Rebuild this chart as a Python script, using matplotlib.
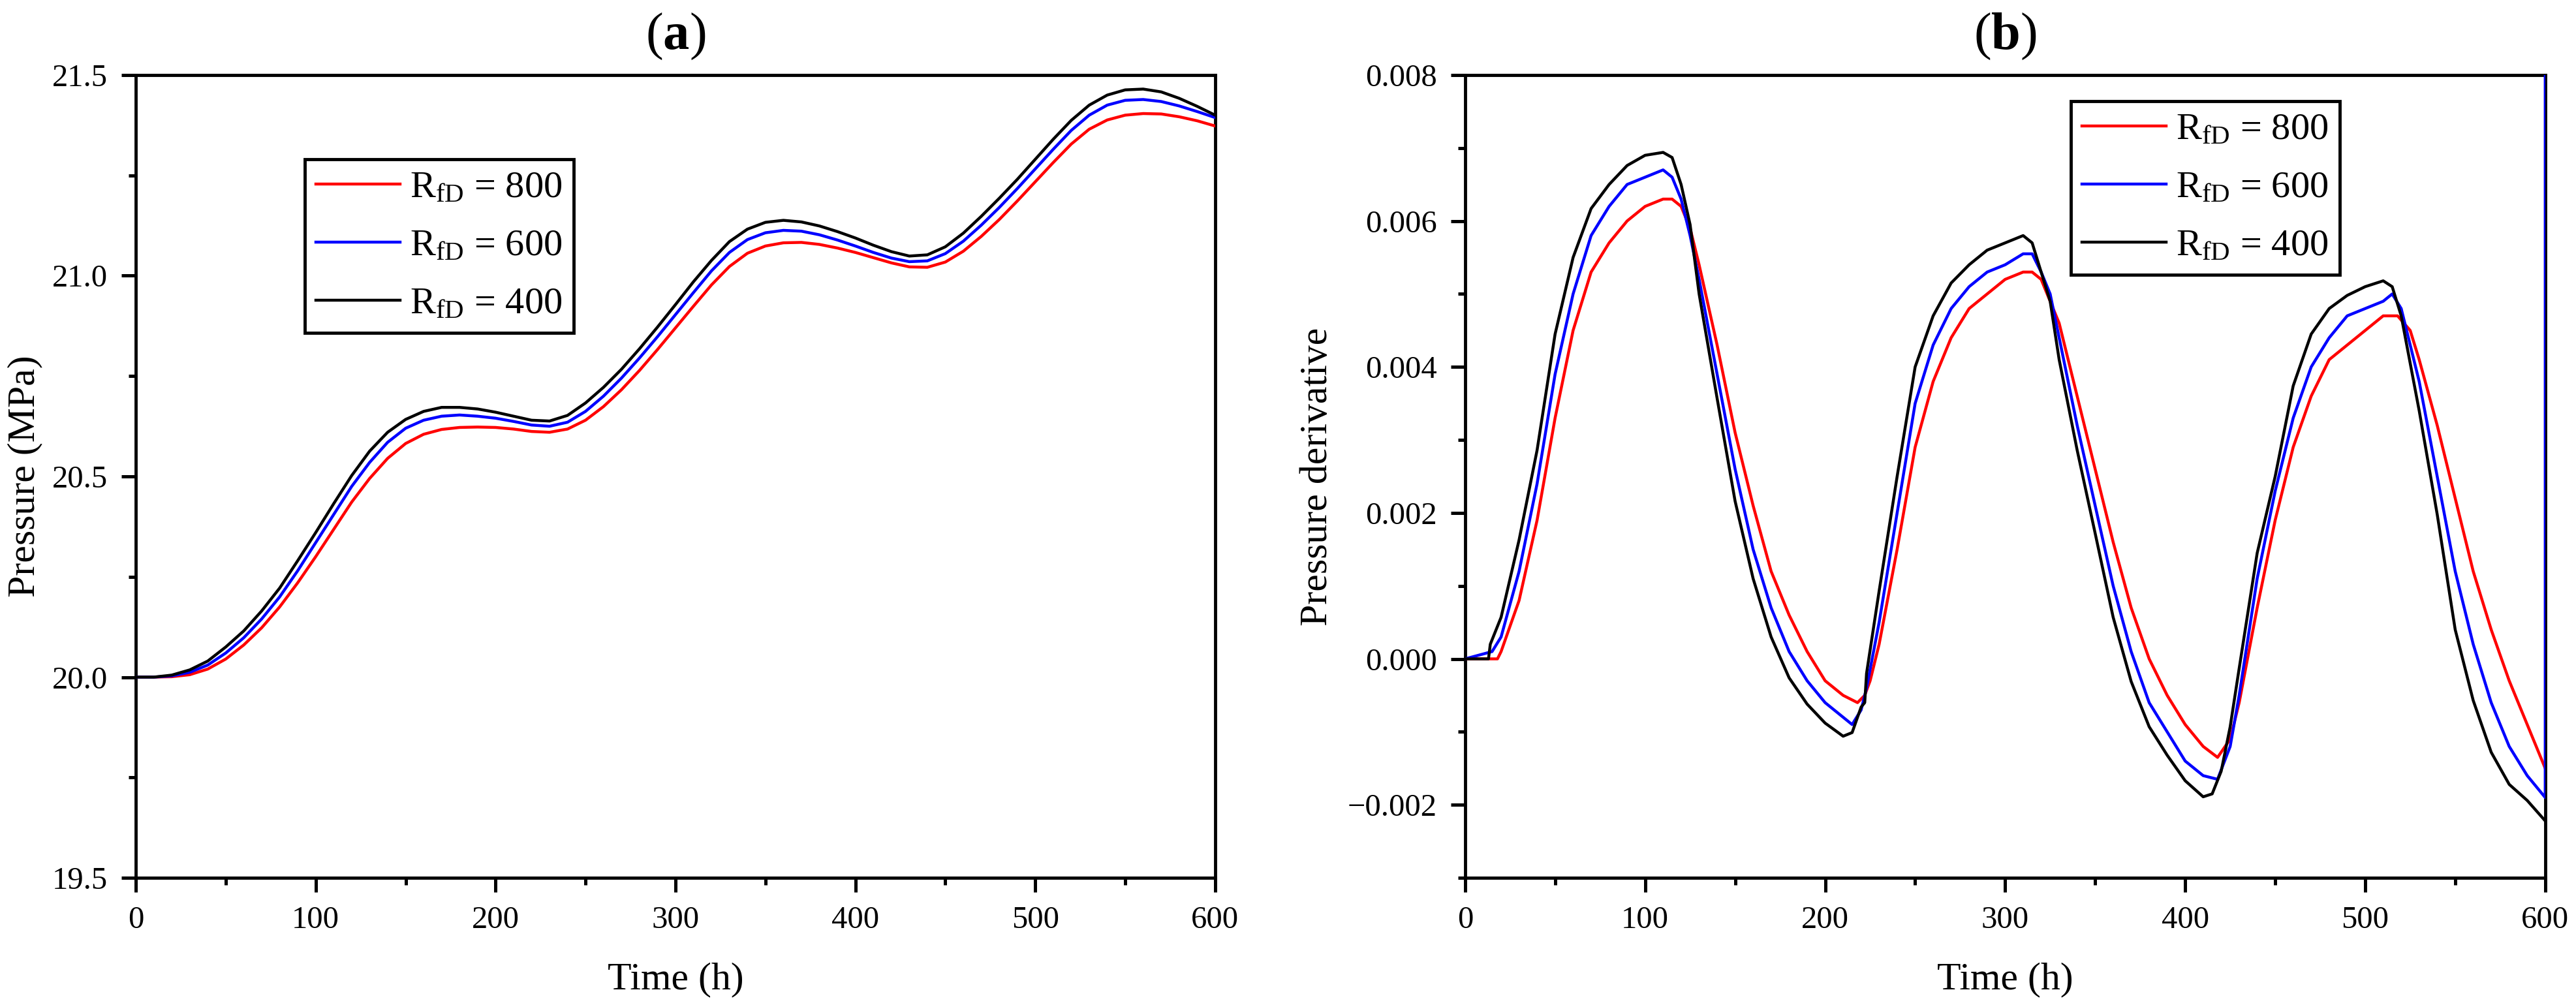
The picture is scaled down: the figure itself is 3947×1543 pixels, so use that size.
#Two panel figure: pressure and pressure derivative for three RfD values

import numpy as np
import matplotlib
matplotlib.use('Agg')
import matplotlib.pyplot as plt
from matplotlib.ticker import MultipleLocator, FuncFormatter

plt.rcParams['font.family'] = ['Liberation Serif', 'DejaVu Serif']
plt.rcParams['mathtext.fontset'] = 'custom'
plt.rcParams['mathtext.rm'] = 'Liberation Serif'
plt.rcParams['mathtext.it'] = 'Liberation Serif:italic'
plt.rcParams['mathtext.bf'] = 'Liberation Serif:bold'

#########################################################################
# DATA                                             #
#########################################################################

labels = [r'R$_{\mathrm{fD}}$ = 800', r'R$_{\mathrm{fD}}$ = 600', r'R$_{\mathrm{fD}}$ = 400']
colors = ['#FF0000', '#0000FF', '#000000']

#Panel (a) pressure, sampled every 10 h
time_p = np.arange(0, 601, 10)

pressure_800 = [20.000, 20.000, 20.001, 20.006, 20.020, 20.045, 20.080, 20.123, 20.175, 20.235,
                20.300, 20.368, 20.436, 20.495, 20.545, 20.582, 20.605, 20.617, 20.622, 20.623,
                20.622, 20.618, 20.612, 20.610, 20.618, 20.640, 20.674, 20.716, 20.764, 20.816,
                20.870, 20.924, 20.977, 21.023, 21.056, 21.074, 21.082, 21.083, 21.078, 21.069,
                21.058, 21.045, 21.032, 21.022, 21.021, 21.034, 21.061, 21.098, 21.140, 21.186,
                21.234, 21.282, 21.328, 21.365, 21.388, 21.400, 21.404, 21.403, 21.396, 21.386,
                21.373]

pressure_600 = [20.000, 20.000, 20.003, 20.012, 20.030, 20.060, 20.098, 20.145, 20.200, 20.265,
                20.335, 20.405, 20.475, 20.535, 20.585, 20.620, 20.640, 20.650, 20.653, 20.650,
                20.645, 20.637, 20.628, 20.625, 20.635, 20.662, 20.700, 20.745, 20.795, 20.848,
                20.903, 20.958, 21.012, 21.058, 21.090, 21.107, 21.113, 21.111, 21.102, 21.089,
                21.074, 21.058, 21.044, 21.035, 21.037, 21.055, 21.086, 21.126, 21.170, 21.217,
                21.266, 21.315, 21.362, 21.400, 21.425, 21.437, 21.439, 21.434, 21.423, 21.409,
                21.394]

pressure_400 = [20.000, 20.000, 20.005, 20.018, 20.040, 20.075, 20.115, 20.165, 20.222, 20.290,
                20.360, 20.432, 20.502, 20.563, 20.610, 20.642, 20.662, 20.672, 20.672, 20.668,
                20.660, 20.650, 20.640, 20.638, 20.652, 20.683, 20.722, 20.767, 20.818, 20.872,
                20.928, 20.985, 21.038, 21.085, 21.116, 21.133, 21.138, 21.134, 21.124, 21.110,
                21.094, 21.076, 21.060, 21.049, 21.052, 21.072, 21.106, 21.148, 21.193, 21.240,
                21.290, 21.340, 21.387, 21.425, 21.450, 21.463, 21.465, 21.458, 21.442, 21.422,
                21.400]

#Panel (b) pressure derivative
time_d800 = [0, 18, 20, 30, 40, 50, 60, 70, 80, 90, 100, 110, 115, 120, 125, 130, 140, 150, 160,
             170, 180, 190, 200, 210, 218, 222, 225, 230, 240, 250, 260, 270, 280, 290, 300, 310,
             315, 320, 330, 340, 350, 360, 370, 380, 390, 400, 410, 418, 425, 430, 440, 450, 460,
             470, 480, 490, 500, 510, 518, 525, 530, 540, 550, 560, 570, 580, 590, 600]
deriv_800 = [0.0, 0.0, 0.0001, 0.0008, 0.0019, 0.0033, 0.0045, 0.0053, 0.0057, 0.0060, 0.0062,
             0.0063, 0.0063, 0.0062, 0.0059, 0.0054, 0.0043, 0.0031, 0.0021, 0.0012, 0.0006,
             0.0001, -0.0003, -0.0005, -0.0006, -0.0005, -0.0003, 0.0002, 0.0015, 0.0029, 0.0038,
             0.0044, 0.0048, 0.0050, 0.0052, 0.0053, 0.0053, 0.0052, 0.0046, 0.0036, 0.0026,
             0.0016, 0.0007, 0.0000, -0.0005, -0.0009, -0.0012, -0.00135, -0.0011, -0.0006,
             0.0007, 0.0019, 0.0029, 0.0036, 0.0041, 0.0043, 0.0045, 0.0047, 0.0047, 0.0045,
             0.0041, 0.0032, 0.0022, 0.0012, 0.0004, -0.0003, -0.0009, -0.0015]

#the 600 curve jumps off the top of the axes at the last time step
time_d600 = [0, 15, 20, 30, 40, 50, 60, 70, 80, 90, 100, 110, 115, 120, 125, 130, 140, 150, 160,
             170, 180, 190, 200, 210, 215, 220, 223, 230, 240, 250, 260, 270, 280, 290, 300, 310,
             315, 320, 325, 330, 340, 350, 360, 370, 380, 390, 400, 410, 418, 425, 430, 440, 450,
             460, 470, 480, 490, 500, 510, 515, 520, 530, 540, 550, 560, 570, 580, 590, 600, 600]
deriv_600 = [0.0, 0.0001, 0.0003, 0.0012, 0.0024, 0.0039, 0.0050, 0.0058, 0.0062, 0.0065, 0.0066,
             0.0067, 0.0066, 0.0063, 0.0058, 0.0052, 0.0039, 0.0026, 0.0015, 0.0007, 0.0001,
             -0.0003, -0.0006, -0.0008, -0.0009, -0.0007, -0.0004, 0.0005, 0.0020, 0.0035, 0.0043,
             0.0048, 0.0051, 0.0053, 0.0054, 0.00555, 0.00555, 0.0053, 0.0050, 0.0044, 0.0032,
             0.0021, 0.0010, 0.0001, -0.0006, -0.0010, -0.0014, -0.0016, -0.00165, -0.0012,
             -0.0005, 0.0011, 0.0023, 0.0033, 0.0040, 0.0044, 0.0047, 0.0048, 0.0049, 0.0050,
             0.0048, 0.0038, 0.0025, 0.0012, 0.0002, -0.0006, -0.0012, -0.0016, -0.0019, 0.0085]

time_d400 = [0, 13, 14, 20, 30, 40, 50, 60, 70, 80, 90, 100, 110, 115, 120, 125, 130, 140, 150,
             160, 170, 180, 190, 200, 210, 215, 220, 222, 223, 230, 240, 250, 260, 270, 280, 290,
             300, 310, 315, 320, 325, 330, 340, 350, 360, 370, 380, 390, 400, 410, 415, 420, 425,
             430, 440, 450, 460, 470, 480, 490, 500, 510, 515, 520, 530, 540, 550, 560, 570, 580,
             590, 600]
deriv_400 = [0.0, 0.0, 0.0002, 0.00057, 0.00163, 0.00286, 0.00445, 0.0055, 0.00617, 0.0065,
             0.00676, 0.0069, 0.00694, 0.00687, 0.0065, 0.00595, 0.0050, 0.00357, 0.00216, 0.0011,
             0.0003, -0.00026, -0.00062, -0.00088, -0.00106, -0.00101, -0.00066, -0.0006, -0.0002,
             0.00093, 0.0025, 0.0040, 0.0047, 0.00515, 0.0054, 0.0056, 0.0057, 0.0058, 0.0057,
             0.0053, 0.0049, 0.0041, 0.00286, 0.00172, 0.00057, -0.00031, -0.00093, -0.00132,
             -0.00167, -0.00189, -0.00185, -0.00154, -0.00093, -0.00013, 0.00145, 0.0025, 0.00374,
             0.00445, 0.0048, 0.00498, 0.0051, 0.00518, 0.0051, 0.0047, 0.0034, 0.00198, 0.0004,
             -0.00057, -0.00128, -0.00172, -0.00194, -0.00222]


def style_axes(ax):
    """Origin-like axes: thick frame, outward ticks on bottom and left only"""
    for spine in ax.spines.values():
        spine.set_linewidth(3.5)
    ax.tick_params(which='both', direction='out', width=3.6, top=False, right=False)
    ax.tick_params(which='major', length=16)
    ax.tick_params(which='minor', length=8)
    ax.tick_params(axis='x', which='major', labelsize=35, pad=15)
    ax.tick_params(axis='y', which='major', labelsize=35, pad=15)


def add_legend(ax, fig, anchor):
    leg = ax.legend(loc='upper left', bbox_to_anchor=anchor, bbox_transform=fig.transFigure,
                    borderaxespad=0, fancybox=False, framealpha=1, edgecolor='black',
                    fontsize=42, handlelength=2.2, handletextpad=0.26, borderpad=0.3,
                    labelspacing=0.62)
    leg.get_frame().set_linewidth(3.5)
    leg.set_zorder(5)
    return leg


fig = plt.figure(figsize=(39.48, 15.43), dpi=100)
ax1 = fig.add_axes([0.0527, 0.1283, 0.4189, 0.7972])
ax2 = fig.add_axes([0.5686, 0.1283, 0.4192, 0.7972])

#########################################################################
# PANEL (a): PRESSURE                                                   #
#########################################################################

for series, color, label in zip([pressure_800, pressure_600, pressure_400], colors, labels):
    ax1.plot(time_p, series, color=color, linewidth=3.2, label=label, zorder=3)

ax1.set_xlim(0, 600)
ax1.set_ylim(19.5, 21.5)
ax1.xaxis.set_major_locator(MultipleLocator(100))
ax1.xaxis.set_minor_locator(MultipleLocator(50))
ax1.yaxis.set_major_locator(MultipleLocator(0.5))
ax1.yaxis.set_minor_locator(MultipleLocator(0.25))
ax1.yaxis.set_major_formatter(FuncFormatter(lambda v, p: f'{v:.1f}'))
style_axes(ax1)
ax1.set_xlabel('Time (h)', fontsize=43)
ax1.set_ylabel('Pressure (MPa)', fontsize=43)
ax1.xaxis.set_label_coords(0.5, -0.105)
ax1.yaxis.set_label_coords(-0.086, 0.5)
ax1.set_title(r'($\mathbf{a}$)', fontsize=58, y=1.033, pad=0)
add_legend(ax1, fig, (467 / 3948, 1 - 244 / 1543))

#########################################################################
# PANEL (b): PRESSURE DERIVATIVE                                        #
#########################################################################

#lines above the spines so the final blue jump shows on the right edge
for t, series, color, label in zip([time_d800, time_d600, time_d400],
                                   [deriv_800, deriv_600, deriv_400], colors, labels):
    ax2.plot(t, series, color=color, linewidth=3.2, label=label, zorder=3)

ax2.set_xlim(0, 600)
ax2.set_ylim(-0.003, 0.008)
ax2.xaxis.set_major_locator(MultipleLocator(100))
ax2.xaxis.set_minor_locator(MultipleLocator(50))
ax2.yaxis.set_major_locator(MultipleLocator(0.002))
ax2.yaxis.set_minor_locator(MultipleLocator(0.001))
ax2.yaxis.set_major_formatter(FuncFormatter(lambda v, p: f'{v:.3f}'.replace('-', '\u2212')))
style_axes(ax2)
ax2.set_xlabel('Time (h)', fontsize=43)
ax2.set_ylabel('Pressure derivative', fontsize=43)
ax2.xaxis.set_label_coords(0.5, -0.105)
ax2.yaxis.set_label_coords(-0.120, 0.5)
ax2.set_title(r'($\mathbf{b}$)', fontsize=58, y=1.033, pad=0)
add_legend(ax2, fig, (3173 / 3948, 1 - 155 / 1543))

fig.savefig('out.png', dpi=100)
